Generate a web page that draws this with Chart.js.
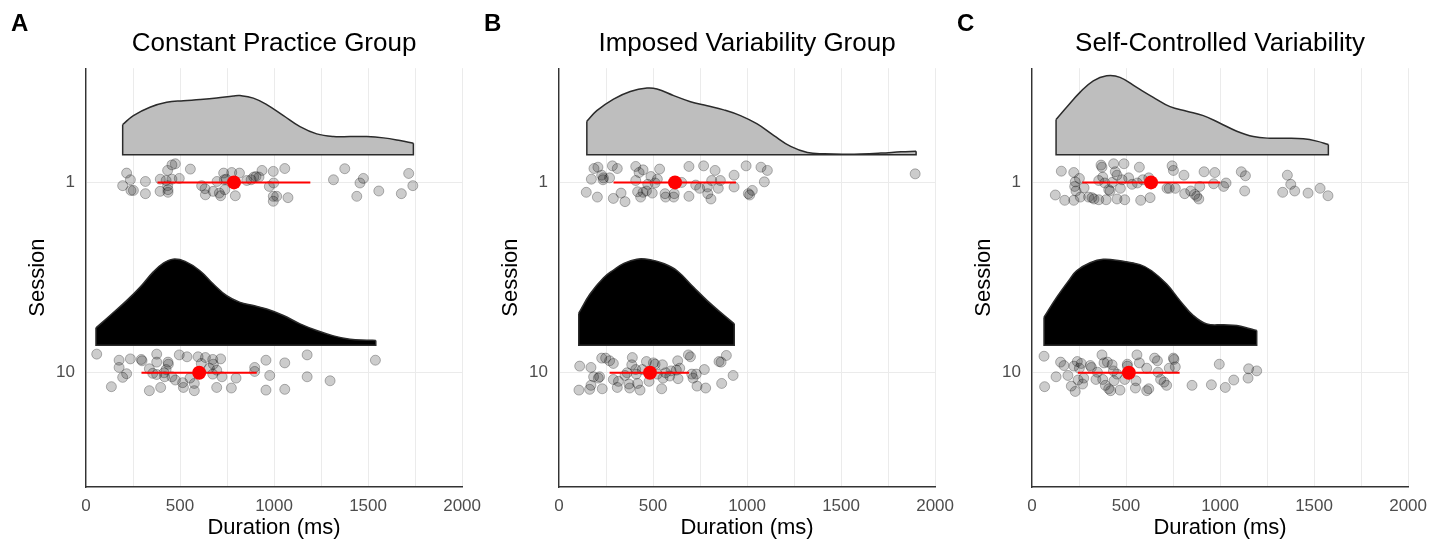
<!DOCTYPE html>
<html>
<head>
<meta charset="utf-8">
<script src="https://cdn.jsdelivr.net/npm/chart.js@4.4.1/dist/chart.umd.min.js"></script>
<style>
  html, body { margin: 0; padding: 0; background: #fff; }
  #wrap { position: relative; width: 1444px; height: 542px; overflow: hidden; }
  .panel { position: absolute; top: 0; width: 490px; height: 542px; }
  .tag { position: absolute; top: 11px; font: bold 24px "Liberation Sans", Arial, sans-serif; line-height: 24px; color: #000; }
</style>
</head>
<body>
<div id="wrap">
  <div class="panel" style="left:0px"><canvas id="chart-a"></canvas></div>
  <div class="panel" style="left:473px"><canvas id="chart-b"></canvas></div>
  <div class="panel" style="left:946px"><canvas id="chart-c"></canvas></div>
  <div class="tag" style="left:11px">A</div>
  <div class="tag" style="left:484px">B</div>
  <div class="tag" style="left:957px">C</div>
</div>
<script>
const FONT = '"Liberation Sans", Arial, sans-serif';

const sessionLabels = ["1", "10"];
const xTickLabels = [0, 500, 1000, 1500, 2000];
const groupTitles = ["Constant Practice Group", "Imposed Variability Group", "Self-Controlled Variability"];

// constant practice group
const constS1Ms = [216,236,195,239,252,316,316,395,394,434,457,475,436,436,457,496,426,434,555,615,633,635,676,697,716,732,738,746,775,794,816,855,878,892,904,920,936,975,996,998,996,1014,996,1057,1074,1316,1376,1440,1457,1475,1557,1677,1716,1738,736,709];
const constS1Jitter = [-0.049,-0.014,0.017,0.042,0.042,-0.005,0.059,-0.017,0.047,-0.063,-0.092,-0.098,0.038,0.052,-0.017,-0.021,-0.010,0.017,-0.070,0.017,0.033,0.065,0.047,-0.005,0.070,-0.049,0.038,-0.017,-0.052,0.070,-0.049,-0.010,-0.014,-0.028,-0.031,-0.028,-0.063,0.021,-0.058,0.003,0.073,0.073,0.099,-0.073,0.080,-0.014,-0.072,0.073,0.003,-0.021,0.045,0.059,-0.047,0.017,-0.014,0.056];
const constS10Ms = [57,135,176,176,195,216,236,294,298,337,337,355,376,376,376,397,415,418,436,438,457,475,496,514,518,537,553,576,576,596,613,635,656,674,677,695,695,716,723,773,798,897,897,957,957,977,1057,1057,1176,1176,1298,1539,674,426];
const constS10Jitter = [-0.098,0.073,-0.066,-0.028,0.024,0.005,-0.073,-0.070,-0.063,-0.021,0.094,0.003,-0.098,-0.056,0.009,0.077,0,0.021,-0.056,-0.045,0.021,0.038,-0.094,0.052,0.077,-0.084,0.028,0.056,0.094,-0.084,-0.049,-0.080,-0.024,-0.070,-0.045,-0.014,0.077,-0.073,0.021,0.080,0.028,-0.028,-0.007,-0.066,0.091,0.014,-0.052,0.087,-0.094,0.021,0.042,-0.066,0.007,-0.017];
const constDens1X = [195,252,340,429,518,606,695,784,819,890,961,1050,1138,1227,1316,1404,1493,1582,1670,1741];
const constDens1H = [0.159,0.206,0.250,0.276,0.284,0.290,0.298,0.309,0.311,0.298,0.264,0.206,0.148,0.110,0.096,0.096,0.096,0.089,0.075,0.061];
const constDens10X = [53,128,216,287,358,410,463,527,606,677,748,819,890,961,1050,1138,1227,1316,1404,1493,1541];
const constDens10H = [0.091,0.156,0.234,0.304,0.385,0.430,0.452,0.440,0.391,0.321,0.260,0.225,0.208,0.190,0.156,0.112,0.077,0.049,0.031,0.026,0.025];
const constMean = [787, 602];
const constLow = [380, 295];
const constHigh = [1193, 908];

// imposed variability group
const imposedS1Ms = [145,172,186,207,204,227,234,236,269,284,289,310,330,351,408,408,426,434,447,447,465,472,489,496,511,523,535,564,567,610,613,652,691,691,727,748,769,789,791,808,812,830,847,858,931,931,995,1007,1014,1028,1074,1092,1108,1894,418];
const imposedS1Jitter = [0.052,-0.017,-0.073,-0.080,0.077,-0.038,-0.014,-0.024,-0.024,-0.087,0.084,-0.073,0.056,0.101,-0.084,-0.010,-0.052,0.077,-0.066,0.052,0.045,0.010,-0.031,0.056,0.003,-0.017,-0.070,0.059,0.077,0.077,0.059,0,-0.084,0.073,0.014,0.031,-0.087,0.024,0.059,0.087,-0.010,-0.063,0.031,-0.010,-0.038,0.024,-0.087,0.059,0.066,0.042,-0.080,-0.003,-0.063,-0.045,0.049];
const imposedS10Ms = [106,110,163,170,170,184,209,216,230,227,248,269,289,289,310,316,351,362,372,376,387,390,411,418,431,443,465,479,502,511,523,546,550,553,567,589,596,624,631,642,633,688,699,706,713,730,734,773,780,851,862,865,890,926,408];
const imposedS10Jitter = [0.091,-0.035,0.087,-0.028,0.066,0.021,0.028,0.021,0.084,-0.077,-0.077,-0.063,-0.049,0.035,0.077,0.045,0.014,0,0.059,0.080,-0.042,-0.080,0.007,0.056,0.091,-0.017,-0.059,0.045,-0.052,-0.045,0.007,0.084,-0.042,0.028,0,0.017,-0.010,-0.014,-0.063,-0.024,0.031,-0.094,-0.084,0.007,0.028,0.007,0.070,-0.017,0.080,-0.059,-0.056,0.056,-0.091,0.014,-0.017];
const imposedDens1X = [148,201,290,379,468,521,610,699,788,876,965,1054,1143,1232,1321,1410,1534,1712,1819,1899];
const imposedDens1H = [0.176,0.232,0.293,0.333,0.351,0.346,0.311,0.279,0.258,0.236,0.206,0.162,0.101,0.044,0.012,0.005,0.003,0.009,0.016,0.019];
const imposedDens10X = [105,165,236,290,345,414,485,560,628,716,788,859,932];
const imposedDens10H = [0.168,0.269,0.353,0.395,0.430,0.452,0.449,0.428,0.391,0.304,0.234,0.173,0.112];
const imposedMean = [617, 484];
const imposedLow = [290, 269];
const imposedHigh = [941, 692];

// self-controlled variability group
const selfS1Ms = [124,156,174,222,222,227,230,234,252,257,277,301,319,330,355,367,372,376,387,394,408,415,434,443,452,452,470,479,489,493,514,532,560,571,578,589,621,628,718,730,745,752,762,808,812,844,865,876,887,892,915,966,972,1019,1032,1113,1135,1131,1333,1358,1376,1397,1468,1532,1574,426,355];
const selfS1Jitter = [0.066,-0.059,0.094,-0.052,0.094,0.021,-0.003,0.045,-0.021,0.077,0.028,0.077,0.080,0.087,0.091,-0.091,-0.080,-0.028,0.003,0.091,0.038,0.045,-0.098,-0.056,-0.038,0.087,0.031,-0.014,-0.098,0.091,-0.024,0.010,0.003,-0.080,0.094,-0.014,-0.024,0.080,0.031,0.031,-0.087,-0.063,0.031,-0.038,0.059,0.045,0.063,0.073,0.087,0.021,-0.056,0.007,-0.052,0.021,0.003,-0.056,-0.035,0.045,0.052,-0.038,0.010,0.045,0.056,0.031,0.070,0,-0.010];
const selfS10Ms = [64,67,128,152,170,191,209,223,230,241,245,252,262,269,275,310,316,340,372,376,383,390,401,408,418,426,433,436,452,468,493,507,507,550,553,558,571,610,610,621,652,667,670,684,702,716,730,752,755,762,851,954,996,1028,1073,1149,1152,1195,348];
const selfS10Jitter = [-0.087,0.073,0.021,-0.056,-0.038,0.014,0.070,-0.035,0.098,-0.059,0.038,-0.024,-0.049,0.059,0.028,-0.038,-0.028,0.035,-0.094,0.035,-0.052,0.066,-0.056,0.084,0.094,-0.042,-0.010,0.042,0.007,0.091,0.035,-0.045,-0.035,0.080,0.042,-0.094,-0.052,-0.024,0.094,0.084,-0.077,-0.063,-0.003,0.035,0.049,0.066,-0.024,-0.077,-0.070,-0.031,0.066,0.063,-0.045,0.077,0.038,0.028,-0.021,-0.010,-0.003];
const selfDens1X = [128,184,255,326,397,468,557,645,734,823,911,1000,1089,1177,1266,1355,1443,1514,1576];
const selfDens1H = [0.185,0.250,0.328,0.389,0.415,0.407,0.354,0.302,0.253,0.229,0.206,0.166,0.124,0.096,0.087,0.087,0.084,0.072,0.054];
const selfDens10X = [64,131,202,237,309,379,468,574,636,716,787,858,929,1018,1089,1160,1195];
const selfDens10H = [0.147,0.251,0.348,0.391,0.433,0.451,0.443,0.423,0.391,0.321,0.234,0.156,0.112,0.107,0.103,0.086,0.077];
const selfMean = [633, 515];
const selfLow = [267, 244];
const selfHigh = [1001, 785];

const NUDGE = 0.145; // gap between the cloud baseline and the session line
const densityFills = ["#bebebe", "#000000"];

// one session row: half violin, raw points, mean with error bar
function sessionSets(pos, ms, jitter, densX, densH, mean, low, high, shade) {
  const base = pos - NUDGE;
  const last = densX.length - 1;
  return [
    {
      data: densX.map((x, i) => ({ x, y: base - densH[i] })),
      showLine: true, tension: 0.4, pointRadius: 0,
      borderColor: "#2b2b2b", borderWidth: 1.5, backgroundColor: shade,
      fill: { value: base }, order: 4,
    },
    {
      data: [
        { x: densX[0], y: base - densH[0] }, { x: densX[0], y: base },
        { x: densX[last], y: base }, { x: densX[last], y: base - densH[last] },
      ],
      showLine: true, pointRadius: 0, borderColor: "#2b2b2b", borderWidth: 1.5, fill: false, order: 3,
    },
    {
      data: ms.map((x, i) => ({ x, y: pos + jitter[i] })),
      pointRadius: 5, backgroundColor: "rgba(0,0,0,0.2)", borderColor: "rgba(0,0,0,0.28)", borderWidth: 1, order: 2,
    },
    {
      data: [{ x: low, y: pos }, { x: high, y: pos }],
      showLine: true, pointRadius: 0, borderColor: "#ff0000", borderWidth: 2, order: 1,
    },
    {
      data: [{ x: mean, y: pos }],
      pointRadius: 7, backgroundColor: "#ff0000", borderWidth: 0, order: 0,
    },
  ];
}

function drawPanel(canvasId, title, rows) {
  const datasets = [];
  rows.forEach((r, i) => {
    datasets.push(...sessionSets(i + 1, r.ms, r.jitter, r.densX, r.densH, r.mean, r.low, r.high, densityFills[i]));
  });

  new Chart(document.getElementById(canvasId), {
    type: "scatter",
    data: { datasets },
    options: {
      responsive: true,
      maintainAspectRatio: false,
      animation: false,
      events: [],
      layout: { padding: { left: 0, right: 26, top: 0, bottom: 0 } },
      plugins: {
        legend: { display: false },
        tooltip: { enabled: false },
        title: {
          display: true, text: title, fullSize: false, color: "#000",
          font: { family: FONT, size: 26, weight: "normal" },
          padding: { top: 28, bottom: 9 },
        },
      },
      scales: {
        x: {
          type: "linear", min: 0, max: 2000,
          afterFit: (s) => { s.height = 55; },
          ticks: {
            stepSize: 250, autoSkip: false, maxRotation: 0, padding: 9,
            color: "#4d4d4d", font: { family: FONT, size: 17 },
            callback: (v) => (xTickLabels.includes(v) ? String(v) : ""),
          },
          grid: { color: "#ebebeb", lineWidth: 1, drawTicks: false },
          border: { display: true, color: "#333", width: 1.4 },
          title: {
            display: true, text: "Duration (ms)", color: "#000",
            font: { family: FONT, size: 22 }, padding: { top: 0, bottom: 1 },
          },
        },
        y: {
          type: "linear", min: 0.4, max: 2.6, reverse: true,
          afterFit: (s) => { s.width = 86; },
          afterBuildTicks: (s) => { s.ticks = sessionLabels.map((_, i) => ({ value: i + 1 })); },
          ticks: {
            padding: 11, color: "#4d4d4d", font: { family: FONT, size: 17 },
            callback: (v) => sessionLabels[v - 1],
          },
          grid: { color: "#ebebeb", lineWidth: 1, drawTicks: false },
          border: { display: true, color: "#333", width: 1.4 },
          title: {
            display: true, text: "Session", color: "#000",
            font: { family: FONT, size: 22 }, padding: { top: 25, bottom: 0 },
          },
        },
      },
    },
  });
}

drawPanel("chart-a", groupTitles[0], [
  { ms: constS1Ms, jitter: constS1Jitter, densX: constDens1X, densH: constDens1H, mean: constMean[0], low: constLow[0], high: constHigh[0] },
  { ms: constS10Ms, jitter: constS10Jitter, densX: constDens10X, densH: constDens10H, mean: constMean[1], low: constLow[1], high: constHigh[1] },
]);
drawPanel("chart-b", groupTitles[1], [
  { ms: imposedS1Ms, jitter: imposedS1Jitter, densX: imposedDens1X, densH: imposedDens1H, mean: imposedMean[0], low: imposedLow[0], high: imposedHigh[0] },
  { ms: imposedS10Ms, jitter: imposedS10Jitter, densX: imposedDens10X, densH: imposedDens10H, mean: imposedMean[1], low: imposedLow[1], high: imposedHigh[1] },
]);
drawPanel("chart-c", groupTitles[2], [
  { ms: selfS1Ms, jitter: selfS1Jitter, densX: selfDens1X, densH: selfDens1H, mean: selfMean[0], low: selfLow[0], high: selfHigh[0] },
  { ms: selfS10Ms, jitter: selfS10Jitter, densX: selfDens10X, densH: selfDens10H, mean: selfMean[1], low: selfLow[1], high: selfHigh[1] },
]);
</script>
</body>
</html>
